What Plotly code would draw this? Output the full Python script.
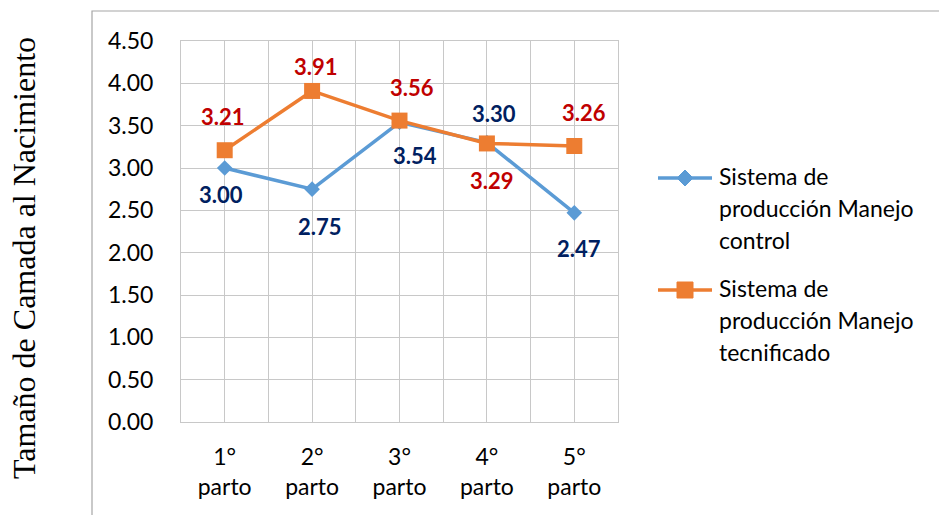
import plotly.graph_objects as go

# Litter size at birth by parity, two production systems
partos = ["1°<br>parto", "2°<br>parto", "3°<br>parto", "4°<br>parto", "5°<br>parto"]
control = [3.00, 2.75, 3.54, 3.30, 2.47]
tecnificado = [3.21, 3.91, 3.56, 3.29, 3.26]
y_ticks = [0.0, 0.5, 1.0, 1.5, 2.0, 2.5, 3.0, 3.5, 4.0, 4.5]

legend_control = ["Sistema de", "producción Manejo", "control"]
legend_tec = ["Sistema de", "producción Manejo", "tecnificado"]

# label nudges in pixels (x, y) for each data label
shift_control = [(-4, -26), (8, -37), (15, -33), (7, 29), (5, -36)]
shift_tec = [(-2, 34), (4, 24), (12, 33), (5, -37), (10, 33)]

BLUE = "#5B9BD5"
ORANGE = "#ED7D31"
NAVY = "#002060"
RED = "#C00000"
GRID = "#C8C8C8"
FONT = "Lato"

W, H = 939, 515
ML, MR, MT, MB = 181, 321, 41, 93
PW, PH = W - ML - MR, H - MT - MB

def px(x):
    return (x - ML) / PW

def py(y):
    return (H - MB - y) / PH

xpos = list(range(1, len(partos) + 1))

fig = go.Figure()
fig.add_trace(go.Scatter(
    x=xpos, y=control, name="control", mode="lines+markers",
    line=dict(color=BLUE, width=3.5),
    marker=dict(symbol="diamond", size=12, color=BLUE),
    showlegend=False,
))
fig.add_trace(go.Scatter(
    x=xpos, y=tecnificado, name="tecnificado", mode="lines+markers",
    line=dict(color=ORANGE, width=3.5),
    marker=dict(symbol="square", size=16, color=ORANGE),
    showlegend=False,
))

annotations = []
for vals, shifts, col in ((control, shift_control, NAVY), (tecnificado, shift_tec, RED)):
    for xv, v, (dx, dy) in zip(xpos, vals, shifts):
        annotations.append(dict(
            x=xv, y=v, xref="x", yref="y", text=f"{v:.2f}", showarrow=False,
            xshift=dx, yshift=dy, xanchor="center", yanchor="middle",
            font=dict(family=FONT, size=22, color=col, weight="bold"),
        ))

annotations.append(dict(
    x=px(24), y=py(258), xref="paper", yref="paper",
    text="Tamaño de Camada al Nacimiento", textangle=-90, showarrow=False,
    xanchor="center", yanchor="middle",
    font=dict(family="Liberation Serif", size=32, color="#000000"),
))

# legend drawn by hand: line sample with marker, then wrapped text
shapes = [dict(
    type="rect", xref="paper", yref="paper",
    x0=px(92), x1=px(960), y0=py(530), y1=py(11),
    line=dict(color="#A6A6A6", width=1.2), layer="below",
)]
LINE_X0, LINE_X1, MARK_X, TEXT_X = 658, 712, 685, 717
LINE_GAP = 32
for top, lines, col, sym in ((178, legend_control, BLUE, "diamond"),
                             (290, legend_tec, ORANGE, "square")):
    shapes.append(dict(type="line", xref="paper", yref="paper",
                       x0=px(LINE_X0), x1=px(LINE_X1), y0=py(top), y1=py(top),
                       line=dict(color=col, width=3.5)))
    r = 8
    if sym == "diamond":
        path = (f"M {px(MARK_X - r)} {py(top)} L {px(MARK_X)} {py(top - r)} "
                f"L {px(MARK_X + r)} {py(top)} L {px(MARK_X)} {py(top + r)} Z")
        shapes.append(dict(type="path", xref="paper", yref="paper", path=path,
                           fillcolor=col, line=dict(color=col, width=1)))
    else:
        shapes.append(dict(type="rect", xref="paper", yref="paper",
                           x0=px(MARK_X - r), x1=px(MARK_X + r),
                           y0=py(top + r), y1=py(top - r),
                           fillcolor=col, line=dict(color=col, width=1)))
    for i, t in enumerate(lines):
        annotations.append(dict(
            x=px(TEXT_X), y=py(top - 2 + i * LINE_GAP), xref="paper", yref="paper",
            text=t, showarrow=False, xanchor="left", yanchor="middle",
            font=dict(family=FONT, size=23, color="#000000"),
        ))

fig.update_layout(
    width=W, height=H,
    margin=dict(l=ML, r=MR, t=MT, b=MB),
    paper_bgcolor="white", plot_bgcolor="white",
    font=dict(family=FONT, size=23, color="#000000"),
    annotations=annotations,
    shapes=shapes,
    showlegend=False,
)

fig.update_xaxes(
    range=[0.5, len(partos) + 0.5],
    tickmode="array", tickvals=xpos, ticktext=partos,
    showgrid=True, gridcolor=GRID, gridwidth=1,
    minor=dict(tickmode="array", tickvals=[i + 0.5 for i in xpos[:-1]],
               showgrid=True, gridcolor=GRID, gridwidth=1, ticks=""),
    showline=True, linecolor=GRID, linewidth=1, mirror=True,
    ticks="outside", ticklen=14, tickcolor="rgba(0,0,0,0)",
    zeroline=False, fixedrange=True,
    tickfont=dict(family=FONT, size=23),
)
fig.update_yaxes(
    range=[0, 4.5],
    tickmode="array", tickvals=y_ticks, ticktext=[f"{t:.2f}" for t in y_ticks],
    showgrid=True, gridcolor=GRID, gridwidth=1,
    showline=True, linecolor=GRID, linewidth=1, mirror=True,
    ticks="outside", ticklen=22, tickcolor="rgba(0,0,0,0)",
    zeroline=False, fixedrange=True,
    tickfont=dict(family=FONT, size=23),
)

fig.write_html("out.html", config={"displayModeBar": False})
